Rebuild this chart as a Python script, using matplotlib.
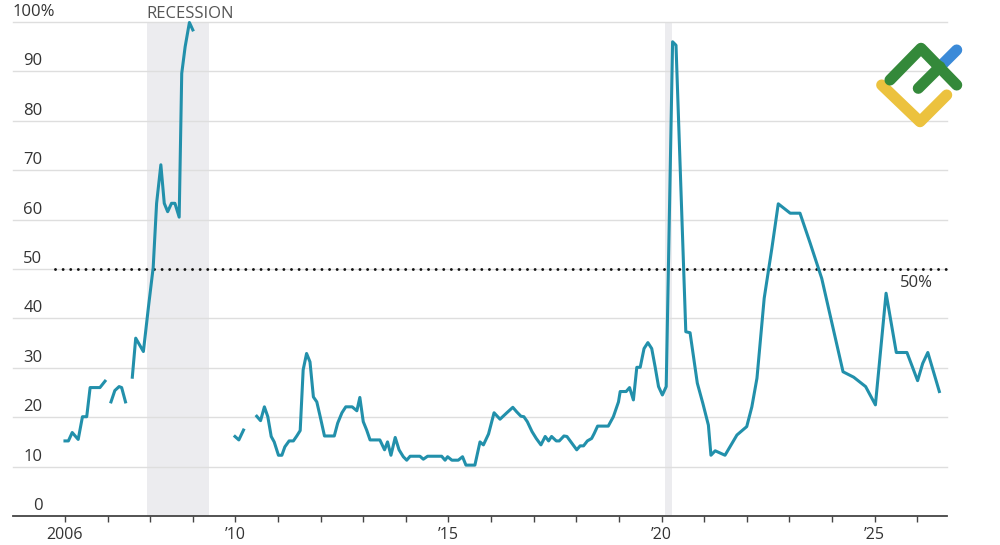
import numpy as np
import matplotlib.pyplot as plt
import matplotlib.transforms as mtransforms

plt.rcParams['font.family'] = ['Open Sans', 'DejaVu Sans']

# recession probability, percent (decimal years); None = gap in the series
years = [2006.00, 2006.08, 2006.17, 2006.31, 2006.41, 2006.51, 2006.59, 2006.82, 2006.94, None,
         2007.08, 2007.17, 2007.27, 2007.33, 2007.42, None,
         2007.58, 2007.66, 2007.84, 2007.96, 2008.07, 2008.15, 2008.25, 2008.33, 2008.41,
         2008.50, 2008.58, 2008.68, 2008.74, 2008.82, 2008.92, 2009.00, None,
         2009.99, 2010.08, 2010.19, None,
         2010.50, 2010.59, 2010.68, 2010.76, 2010.84, 2010.91, 2011.01, 2011.09, 2011.16,
         2011.26, 2011.36, 2011.44, 2011.52, 2011.59, 2011.67, 2011.75, 2011.83, 2011.91,
         2011.99, 2012.09, 2012.32, 2012.40, 2012.50, 2012.59, 2012.74, 2012.85, 2012.92,
         2013.00, 2013.08, 2013.16, 2013.39, 2013.50, 2013.57, 2013.65, 2013.75, 2013.84,
         2013.94, 2014.02, 2014.10, 2014.33, 2014.41, 2014.51, 2014.84, 2014.92, 2014.98,
         2015.08, 2015.23, 2015.33, 2015.41, 2015.62, 2015.74, 2015.82, 2015.94, 2016.07,
         2016.21, 2016.37, 2016.51, 2016.60, 2016.70, 2016.77, 2016.85, 2016.96, 2017.06,
         2017.17, 2017.27, 2017.35, 2017.42, 2017.53, 2017.60, 2017.71, 2017.78, 2017.89,
         2018.01, 2018.09, 2018.17, 2018.26, 2018.36, 2018.42, 2018.50, 2018.75, 2018.87,
         2018.99, 2019.03, 2019.17, 2019.25, 2019.34, 2019.42, 2019.50, 2019.59, 2019.68,
         2019.77, 2019.85, 2019.93, 2020.02, 2020.11, 2020.26, 2020.34, 2020.57, 2020.67,
         2020.84, 2020.97, 2021.10, 2021.16, 2021.26, 2021.49, 2021.77, 2022.00, 2022.12,
         2022.24, 2022.41, 2022.59, 2022.74, 2023.02, 2023.25, 2023.49, 2023.76, 2024.26,
         2024.51, 2024.79, 2025.02, 2025.27, 2025.51, 2025.76, 2026.01, 2026.13, 2026.25,
         2026.52]
probs = [15.2, 15.2, 16.9, 15.5, 20.1, 20.1, 26.0, 26.0, 27.3, None,
         23.1, 25.4, 26.2, 26.0, 23.1, None,
         28.1, 36.0, 33.3, 42.4, 50.3, 63.3, 71.1, 63.3, 61.6,
         63.3, 63.3, 60.5, 89.6, 95.0, 99.9, 98.4, None,
         16.1, 15.4, 17.4, None,
         20.2, 19.3, 22.1, 20.1, 16.1, 15.0, 12.3, 12.3, 14.0,
         15.2, 15.2, 16.2, 17.3, 29.6, 32.9, 31.2, 24.1, 23.1,
         20.1, 16.2, 16.2, 18.8, 20.9, 22.1, 22.1, 21.3, 24.0,
         19.1, 17.4, 15.4, 15.4, 13.4, 15.0, 12.3, 15.9, 13.4,
         12.0, 11.3, 12.1, 12.1, 11.5, 12.1, 12.1, 11.3, 12.0,
         11.3, 11.3, 12.0, 10.3, 10.3, 15.0, 14.4, 16.6, 20.9,
         19.6, 20.9, 22.0, 21.1, 20.2, 20.1, 19.1, 17.1, 15.7,
         14.4, 16.1, 15.2, 16.1, 15.2, 15.2, 16.2, 16.1, 14.8,
         13.4, 14.2, 14.2, 15.2, 15.7, 16.7, 18.2, 18.2, 20.1,
         23.1, 25.2, 25.2, 26.0, 23.5, 30.1, 30.1, 33.9, 35.1,
         33.9, 30.2, 26.2, 24.5, 26.2, 96.0, 95.3, 37.3, 37.1,
         26.9, 22.8, 18.4, 12.3, 13.2, 12.3, 16.4, 18.1, 22.1,
         27.9, 44.1, 54.2, 63.2, 61.3, 61.3, 55.2, 48.1, 29.2,
         28.1, 26.2, 22.5, 45.1, 33.1, 33.1, 27.4, 30.9, 33.1,
         25.2]

recessions = [(2007.92, 2009.38), (2020.09, 2020.25)]
yticks = [0, 10, 20, 30, 40, 50, 60, 70, 80, 90, 100]
xtick_years = list(range(2006, 2027))
xlabels = {2006: "2006", 2010: "\u201910", 2015: "\u201915", 2020: "\u201920", 2025: "\u201925"}
threshold = 50

x = np.array([np.nan if v is None else v for v in years])
y = np.array([np.nan if v is None else v for v in probs])

fig = plt.figure(figsize=(10, 5.45), dpi=100)
ax = fig.add_axes([0.013, 0.0532, 0.934, 0.9064])
ax.set_xlim(2004.78, 2026.70)
ax.set_ylim(0, 100)

for s, e in recessions:
    ax.axvspan(s, e, color="#ececef", lw=0, zorder=0)
ax.text(recessions[0][0], 100.9, "RECESSION", fontsize=12, color="#555555",
        ha="left", va="baseline")

for t in yticks[1:]:
    ax.axhline(t, color="#dedede", lw=1, zorder=1, clip_on=False)

lab_tr = mtransforms.offset_copy(ax.transData, fig=fig, y=1.5, units="points")
for t in yticks[:-1]:
    ax.text(2005.47, t, str(t), transform=lab_tr, ha="right", va="bottom",
            fontsize=12, color="#333333")
top_tr = mtransforms.offset_copy(ax.get_yaxis_transform(), fig=fig, y=1.5, units="points")
ax.text(0.0, yticks[-1], f"{yticks[-1]}%", transform=top_tr, ha="left", va="bottom",
        fontsize=12, color="#333333")

ax.plot([2005.77, 2026.70], [threshold, threshold], color="#111111", lw=2.1,
        linestyle=(0, (0.01, 2.6)), dash_capstyle="round", zorder=2, clip_on=False)
ax.text(2026.38, threshold - 1.2, "50%", ha="right", va="top", fontsize=12, color="#333333")

ax.plot(x, y, color="#2290ab", lw=2.2, zorder=3, clip_on=False,
        solid_joinstyle="round")

for sp in ["top", "left", "right"]:
    ax.spines[sp].set_visible(False)
ax.spines["bottom"].set_color("#444444")
ax.spines["bottom"].set_linewidth(1.3)
ax.set_yticks([])
ax.set_xticks(xtick_years)
ax.set_xticklabels([xlabels.get(v, "") for v in xtick_years])
ax.tick_params(axis="x", length=4, width=1, color="#444444", labelsize=11.5,
               labelcolor="#333333", pad=4)

# watermark logo, drawn in pixel space
lg = fig.add_axes([0, 0, 1, 1], zorder=5)
lg.set_xlim(0, 1000)
lg.set_ylim(545, 0)
lg.axis("off")
kw = dict(lw=8, solid_capstyle="round", solid_joinstyle="round")
lg.plot([881.7, 920, 946.7], [85, 121.7, 95], color="#ecc23e", **kw)
lg.plot([940, 956.7], [66.7, 50], color="#3b8ad8", **kw)
lg.plot([890, 921, 956.7], [80, 48.3, 85], color="#34893a", **kw)
lg.plot([918.3, 940], [88.3, 66.7], color="#34893a", **kw)

fig.savefig("out.png", dpi=100)
